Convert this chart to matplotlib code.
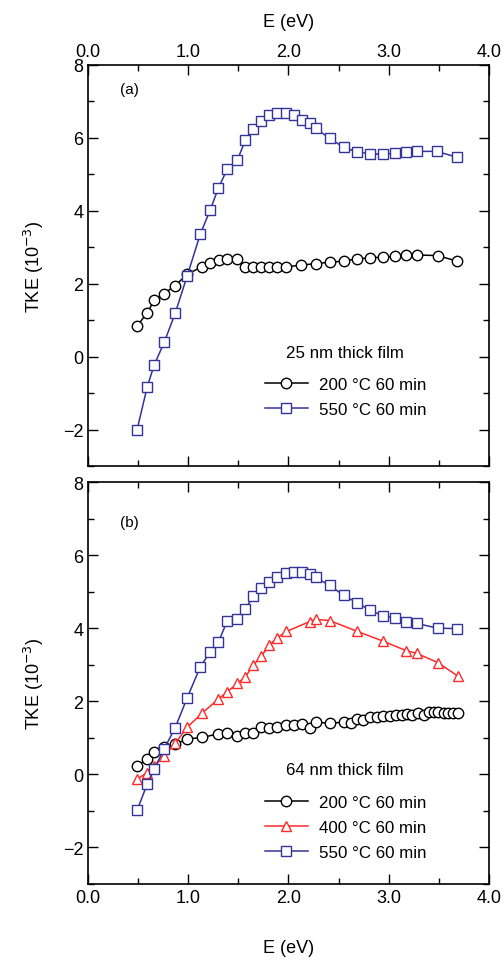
import numpy as np
import matplotlib
matplotlib.use('Agg')
import matplotlib.pyplot as plt
from matplotlib.ticker import MultipleLocator, FormatStrFormatter

plt.rcParams['font.family'] = ['Liberation Sans', 'DejaVu Sans']
plt.rcParams['font.size'] = 13

# panel (a): 25 nm film
a_e200 = [0.49, 0.59, 0.66, 0.76, 0.87, 0.99, 1.14, 1.22, 1.31, 1.39, 1.49, 1.57, 1.65, 1.73,
          1.81, 1.89, 1.98, 2.12, 2.27, 2.41, 2.55, 2.68, 2.81, 2.94, 3.06, 3.17, 3.28, 3.49, 3.68]
a_t200 = [0.84, 1.20, 1.54, 1.73, 1.95, 2.26, 2.47, 2.57, 2.64, 2.69, 2.69, 2.47, 2.47, 2.47,
          2.47, 2.46, 2.46, 2.51, 2.55, 2.59, 2.62, 2.68, 2.71, 2.73, 2.75, 2.79, 2.79, 2.77, 2.62]
a_e550 = [0.49, 0.59, 0.66, 0.76, 0.87, 0.99, 1.12, 1.22, 1.30, 1.39, 1.49, 1.57, 1.65, 1.73,
          1.81, 1.89, 1.98, 2.05, 2.13, 2.21, 2.27, 2.41, 2.55, 2.68, 2.81, 2.94, 3.06, 3.17,
          3.28, 3.48, 3.68]
a_t550 = [-2.0, -0.84, -0.23, 0.39, 1.19, 2.22, 3.36, 4.03, 4.62, 5.15, 5.39, 5.94, 6.24, 6.47,
          6.63, 6.68, 6.68, 6.63, 6.50, 6.41, 6.26, 5.99, 5.74, 5.62, 5.57, 5.55, 5.58, 5.61,
          5.63, 5.63, 5.47]

# panel (b): 64 nm film
b_e200 = [0.49, 0.59, 0.66, 0.76, 0.87, 0.99, 1.14, 1.30, 1.39, 1.49, 1.57, 1.65, 1.73, 1.81,
          1.89, 1.98, 2.05, 2.13, 2.21, 2.27, 2.41, 2.55, 2.62, 2.68, 2.74, 2.81, 2.88, 2.94,
          3.01, 3.07, 3.13, 3.18, 3.23, 3.29, 3.35, 3.40, 3.45, 3.49, 3.55, 3.59, 3.64, 3.69]
b_t200 = [0.24, 0.42, 0.62, 0.74, 0.82, 0.97, 1.01, 1.11, 1.12, 1.06, 1.12, 1.14, 1.29, 1.28,
          1.30, 1.34, 1.35, 1.38, 1.28, 1.43, 1.40, 1.43, 1.42, 1.51, 1.50, 1.57, 1.56, 1.61,
          1.59, 1.63, 1.62, 1.65, 1.63, 1.67, 1.62, 1.71, 1.70, 1.71, 1.68, 1.67, 1.67, 1.67]
b_e400 = [0.49, 0.59, 0.66, 0.76, 0.87, 0.99, 1.14, 1.30, 1.39, 1.49, 1.57, 1.65, 1.73, 1.81,
          1.89, 1.98, 2.21, 2.27, 2.41, 2.68, 2.94, 3.17, 3.28, 3.49, 3.69]
b_t400 = [-0.13, 0.05, 0.22, 0.51, 0.85, 1.29, 1.68, 2.06, 2.26, 2.49, 2.67, 2.99, 3.24, 3.54,
          3.74, 3.91, 4.18, 4.24, 4.21, 3.92, 3.65, 3.39, 3.31, 3.06, 2.69]
b_e550 = [0.49, 0.59, 0.66, 0.76, 0.87, 0.99, 1.12, 1.22, 1.30, 1.39, 1.49, 1.57, 1.65, 1.73,
          1.81, 1.89, 1.98, 2.05, 2.13, 2.21, 2.27, 2.41, 2.55, 2.68, 2.81, 2.94, 3.06, 3.17,
          3.28, 3.49, 3.68]
b_t550 = [-0.98, -0.27, 0.15, 0.70, 1.28, 2.10, 2.94, 3.36, 3.61, 4.21, 4.24, 4.53, 4.88, 5.10,
          5.26, 5.39, 5.52, 5.53, 5.53, 5.49, 5.39, 5.17, 4.90, 4.70, 4.50, 4.34, 4.28, 4.17,
          4.13, 4.00, 3.99]

labels = ['200 °C 60 min', '400 °C 60 min', '550 °C 60 min']
blue = '#333399'
red = '#ff2a2a'

fig = plt.figure(figsize=(5.04, 9.62), dpi=100)
ax1 = fig.add_axes([0.1746, 0.5146, 0.7956, 0.4168])
ax2 = fig.add_axes([0.1746, 0.0800, 0.7956, 0.4179])

mk = dict(markersize=7.5, markerfacecolor='white', linewidth=1.1, markeredgewidth=1.0)

ax1.plot(a_e200, a_t200, '-o', color='black', label=labels[0], **mk)
ax1.plot(a_e550, a_t550, '-s', color=blue, label=labels[2], **mk)

ax2.plot(b_e200, b_t200, '-o', color='black', label=labels[0], **mk)
ax2.plot(b_e400, b_t400, '-^', color=red, label=labels[1], **mk)
ax2.plot(b_e550, b_t550, '-s', color=blue, label=labels[2], **mk)

for ax in (ax1, ax2):
    ax.set_xlim(0, 4)
    ax.set_ylim(-3, 8)
    ax.xaxis.set_major_locator(MultipleLocator(1))
    ax.xaxis.set_minor_locator(MultipleLocator(0.5))
    ax.yaxis.set_major_locator(MultipleLocator(2))
    ax.yaxis.set_minor_locator(MultipleLocator(1))
    ax.xaxis.set_major_formatter(FormatStrFormatter('%.1f'))
    ax.tick_params(which='both', direction='in', top=True, right=True, labelsize=13)
    ax.tick_params(which='major', length=7, width=1)
    ax.tick_params(which='minor', length=4, width=1)
    ax.set_ylabel('TKE (10$^{-3}$)', fontsize=13, labelpad=12)
    for s in ax.spines.values():
        s.set_linewidth(1.2)

ax1.tick_params(labelbottom=False, labeltop=True)
ax1.xaxis.set_label_position('top')
ax1.set_xlabel('E (eV)', fontsize=13, labelpad=12)
ax2.set_xlabel('E (eV)', fontsize=13, labelpad=24)

ax1.text(0.08, 0.94, '(a)', transform=ax1.transAxes, fontsize=11, va='center')
ax2.text(0.08, 0.90, '(b)', transform=ax2.transAxes, fontsize=11, va='center')

leg_kw = dict(loc='upper left', bbox_to_anchor=(0.441, 0.222), frameon=False, fontsize=12.2,
              handlelength=2.55, handletextpad=0.65, labelspacing=0.6, borderaxespad=0,
              borderpad=0)
ax1.text(0.494, 0.284, '25 nm thick film', transform=ax1.transAxes, fontsize=12.2, va='center')
ax1.legend(**leg_kw)
ax2.text(0.494, 0.284, '64 nm thick film', transform=ax2.transAxes, fontsize=12.2, va='center')
ax2.legend(**leg_kw)

fig.savefig('out.png', dpi=100)
